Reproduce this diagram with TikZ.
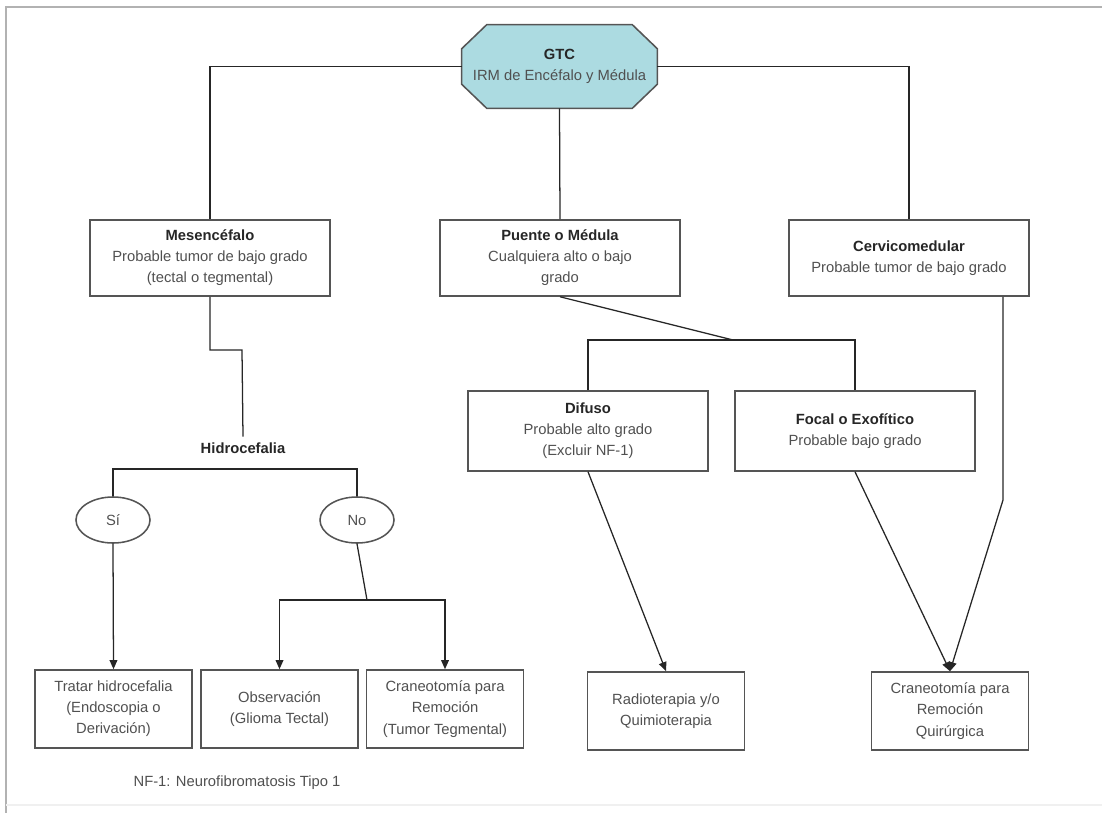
\documentclass[tikz,border=0pt]{standalone}
\usepackage{fontspec}
\setmainfont{Liberation Sans}
\usetikzlibrary{arrows.meta,shapes.geometric,backgrounds,positioning,calc}
\definecolor{gtcfill}{RGB}{172,219,225}
\definecolor{boxline}{RGB}{85,85,85}
\definecolor{bodytext}{RGB}{80,80,80}
\newcommand\ttl[1]{{\bfseries\color{black!85}#1}}
\tikzset{
    caja/.style={draw=boxline,line width=1.1pt,rectangle,minimum width=6cm,minimum height=1.9cm,
        align=center,text=bodytext,font=\fontsize{10.5}{15}\selectfont,inner sep=0pt},
    cajita/.style={caja,minimum width=3.92cm,minimum height=1.95cm},
    opcion/.style={draw=boxline,line width=1.1pt,ellipse,minimum width=1.85cm,minimum height=1.15cm,
        text=bodytext,font=\fontsize{10.5}{15}\selectfont,inner sep=0pt},
    linea/.style={draw=black!85,line width=0.9pt},
    flecha/.style={linea,-{Triangle[length=6.5pt,width=5.5pt]}}
}

\begin{document}
\begin{tikzpicture}[x=0.025cm,y=-0.025cm]
            \useasboundingbox (0,0) rectangle (1102,813);
            \draw[gray!60,line width=1.5pt] (1102,7) -- (6,7) -- (6,813);
            \draw[gray!12,line width=1.5pt] (6,805) -- (1102,805);

            \node[rectangle,minimum width=4.875cm,minimum height=2.075cm,inner sep=0pt,align=center,text=bodytext,
                font=\fontsize{10.5}{15}\selectfont] (gtc) at (559.5,66.5) {\ttl{GTC}\\IRM de Encéfalo y Médula};
            \begin{scope}[on background layer]
                \filldraw[fill=gtcfill,draw=boxline,line width=1.1pt]
                    ($(gtc.north west)+(25,0)$) -- ($(gtc.north east)+(-25,0)$) -- ($(gtc.north east)+(0,24)$)
                    -- ($(gtc.south east)+(0,-24)$) -- ($(gtc.south east)+(-25,0)$) -- ($(gtc.south west)+(25,0)$)
                    -- ($(gtc.south west)+(0,-24)$) -- ($(gtc.north west)+(0,24)$) -- cycle;
            \end{scope}

            \node[caja] (mes) at (210,258) {\ttl{Mesencéfalo}\\Probable tumor de bajo grado\\(tectal o tegmental)};
            \node[caja] (pue) at (560,258) {\ttl{Puente o Médula}\\Cualquiera alto o bajo\\grado};
            \node[caja] (cerv) at (909,258) {\ttl{Cervicomedular}\\Probable tumor de bajo grado};
            \node[caja,minimum height=2cm] (dif) at (588,431) {\ttl{Difuso}\\Probable alto grado\\(Excluir NF-1)};
            \node[caja,minimum height=2cm] (foc) at (855,431) {\ttl{Focal o Exofítico}\\Probable bajo grado};

            \node[font=\fontsize{10.5}{15}\selectfont\bfseries,text=black!85,inner sep=4pt] (hid) at (243,448) {Hidrocefalia};
            \node[opcion] (si) at (113,520) {Sí};
            \node[opcion] (no) at (357,520) {No};

            \node[cajita] (trat) at (113.5,709) {Tratar hidrocefalia\\(Endoscopia o\\Derivación)};
            \node[cajita] (obs) at (279.5,709) {Observación\\(Glioma Tectal)};
            \node[cajita] (cran) at (445,709) {Craneotomía para\\Remoción\\(Tumor Tegmental)};
            \node[cajita] (radio) at (666,711) {Radioterapia y/o\\Quimioterapia};
            \node[cajita] (cran2) at (950,711) {Craneotomía para\\Remoción\\Quirúrgica};

            \node[font=\fontsize{10.5}{15}\selectfont,text=bodytext] (nota) at (237,783) {NF-1: Neurofibromatosis Tipo 1};

            \coordinate (jog) at (242,350);
            \coordinate (hbar) at (243,469);
            \coordinate (njoin) at (367,600);
            \coordinate (pjoin) at (733,340);
            \coordinate (cbend) at (1003,500);

            \draw[linea] (gtc.west) -| (mes.north);
            \draw[linea] (gtc.east) -| (cerv.north);
            \draw[linea] (gtc.south) -- (pue.north);
            \draw[linea] (mes.south) |- (jog) -- (hid.north);
            \draw[linea] (si.north) |- (hbar) -| (no.north);
            \draw[flecha] (si.south) -- (trat.north);
            \draw[linea] (no.south) -- (njoin);
            \draw[flecha] (njoin) -| (obs.north);
            \draw[flecha] (njoin) -| (cran.north);
            \draw[linea] (pue.south) -- (pjoin);
            \draw[linea] (pjoin) -| (dif.north);
            \draw[linea] (pjoin) -| (foc.north);
            \draw[flecha] (dif.south) -- (radio.north);
            \draw[flecha] (foc.south) -- (cran2.north);
            \draw[flecha] (cerv.south -| cbend) -- (cbend) -- (cran2.north);
\end{tikzpicture}
\end{document}
